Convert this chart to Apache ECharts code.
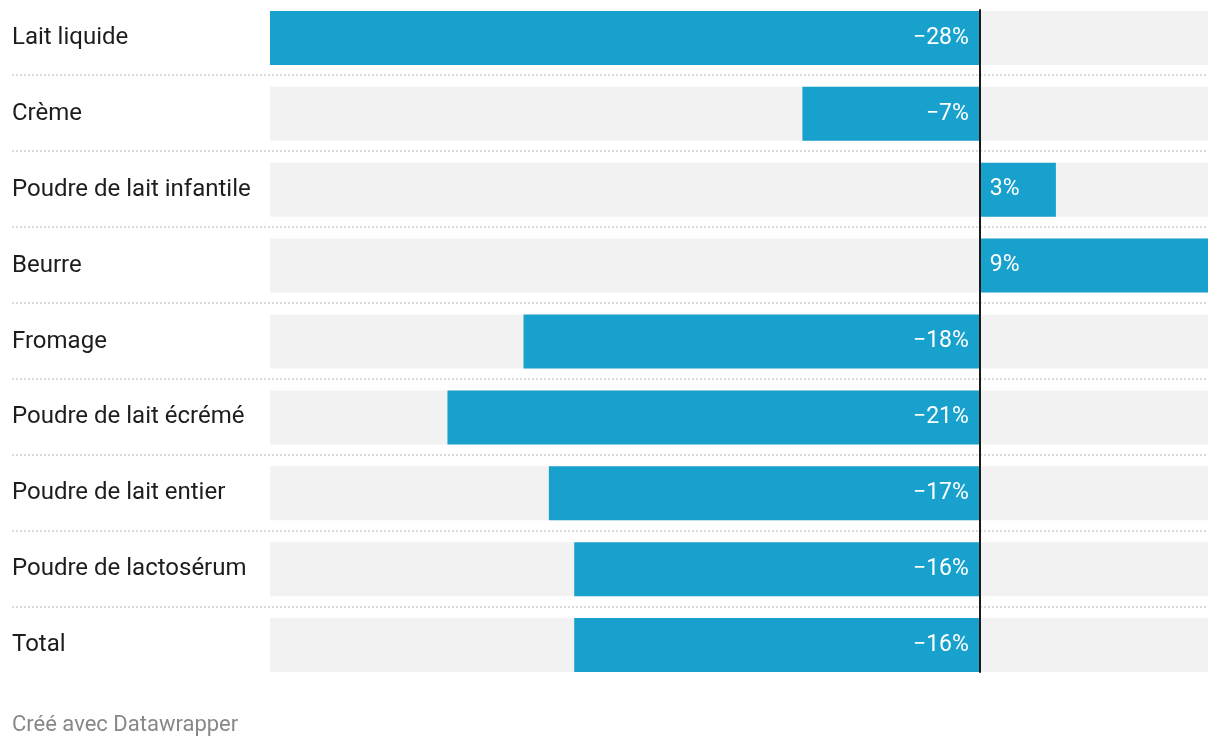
<!DOCTYPE html>
<html>
<head>
<meta charset="utf-8">
<script src="https://cdn.jsdelivr.net/npm/echarts@6/dist/echarts.min.js"></script>
<style>
html,body{margin:0;padding:0;background:#fff;}
#chart{width:1220px;height:748px;}
</style>
</head>
<body>
<div id="chart"></div>
<script>
const categories = [
  "Lait liquide",
  "Crème",
  "Poudre de lait infantile",
  "Beurre",
  "Fromage",
  "Poudre de lait écrémé",
  "Poudre de lait entier",
  "Poudre de lactosérum",
  "Total"
];
const values = [-28, -7, 3, 9, -18, -21, -17, -16, -16];
const axisMin = -28;
const axisMax = 9;
const footerText = "Créé avec Datawrapper";

const FONT = "Roboto, 'Noto Sans', sans-serif";

function fmt(v) {
  return (v < 0 ? "\u2212" + Math.abs(v) : String(v)) + "%";
}

const chart = echarts.init(document.getElementById("chart"), null, { renderer: "canvas" });

const barData = values.map(v => ({
  value: v,
  label: {
    position: v < 0 ? "insideRight" : "insideLeft",
    distance: v < 0 ? 11 : 10
  }
}));

chart.setOption({
  animation: false,
  backgroundColor: "#ffffff",
  title: {
    text: footerText,
    left: 12,
    top: 714,
    padding: 0,
    textStyle: { fontFamily: FONT, fontSize: 22, fontWeight: "normal", color: "#888888" }
  },
  grid: [
    { left: 270, right: 12, top: -1, height: 684 },
    { left: 12, right: 12, top: 75, height: 532 },
    { left: 270, right: 12, top: 10, height: 662 }
  ],
  xAxis: [
    { gridIndex: 0, type: "value", min: axisMin, max: axisMax, show: false },
    { gridIndex: 1, type: "value", min: 0, max: 1, show: false },
    { gridIndex: 2, type: "value", min: axisMin, max: axisMax, show: false }
  ],
  yAxis: [
    {
      gridIndex: 0,
      type: "category",
      data: categories,
      inverse: true,
      axisLine: { show: false },
      axisTick: { show: false },
      splitLine: { show: false },
      axisLabel: {
        align: "left",
        margin: 258,
        fontFamily: FONT,
        fontSize: 24,
        color: "#1d1d1d"
      }
    },
    {
      gridIndex: 1,
      type: "value",
      min: 0,
      max: 7,
      interval: 1,
      axisLine: { show: false },
      axisTick: { show: false },
      axisLabel: { show: false },
      splitLine: {
        show: true,
        lineStyle: { color: "#cfcfcf", width: 1.5, type: [2, 2] }
      }
    },
    {
      gridIndex: 2,
      type: "value",
      min: 0,
      max: 1,
      z: 10,
      axisLine: { show: true, onZero: true, lineStyle: { color: "#1a1a1a", width: 2 } },
      axisTick: { show: false },
      axisLabel: { show: false },
      splitLine: { show: false }
    }
  ],
  series: [
    {
      type: "bar",
      xAxisIndex: 0,
      yAxisIndex: 0,
      data: barData,
      barWidth: 54,
      showBackground: true,
      backgroundStyle: { color: "#f2f2f2" },
      itemStyle: { color: "#18a1cd" },
      label: {
        show: true,
        formatter: p => fmt(p.value),
        fontFamily: FONT,
        fontSize: 23,
        color: "#ffffff"
      }
    }
  ]
});
</script>
</body>
</html>
